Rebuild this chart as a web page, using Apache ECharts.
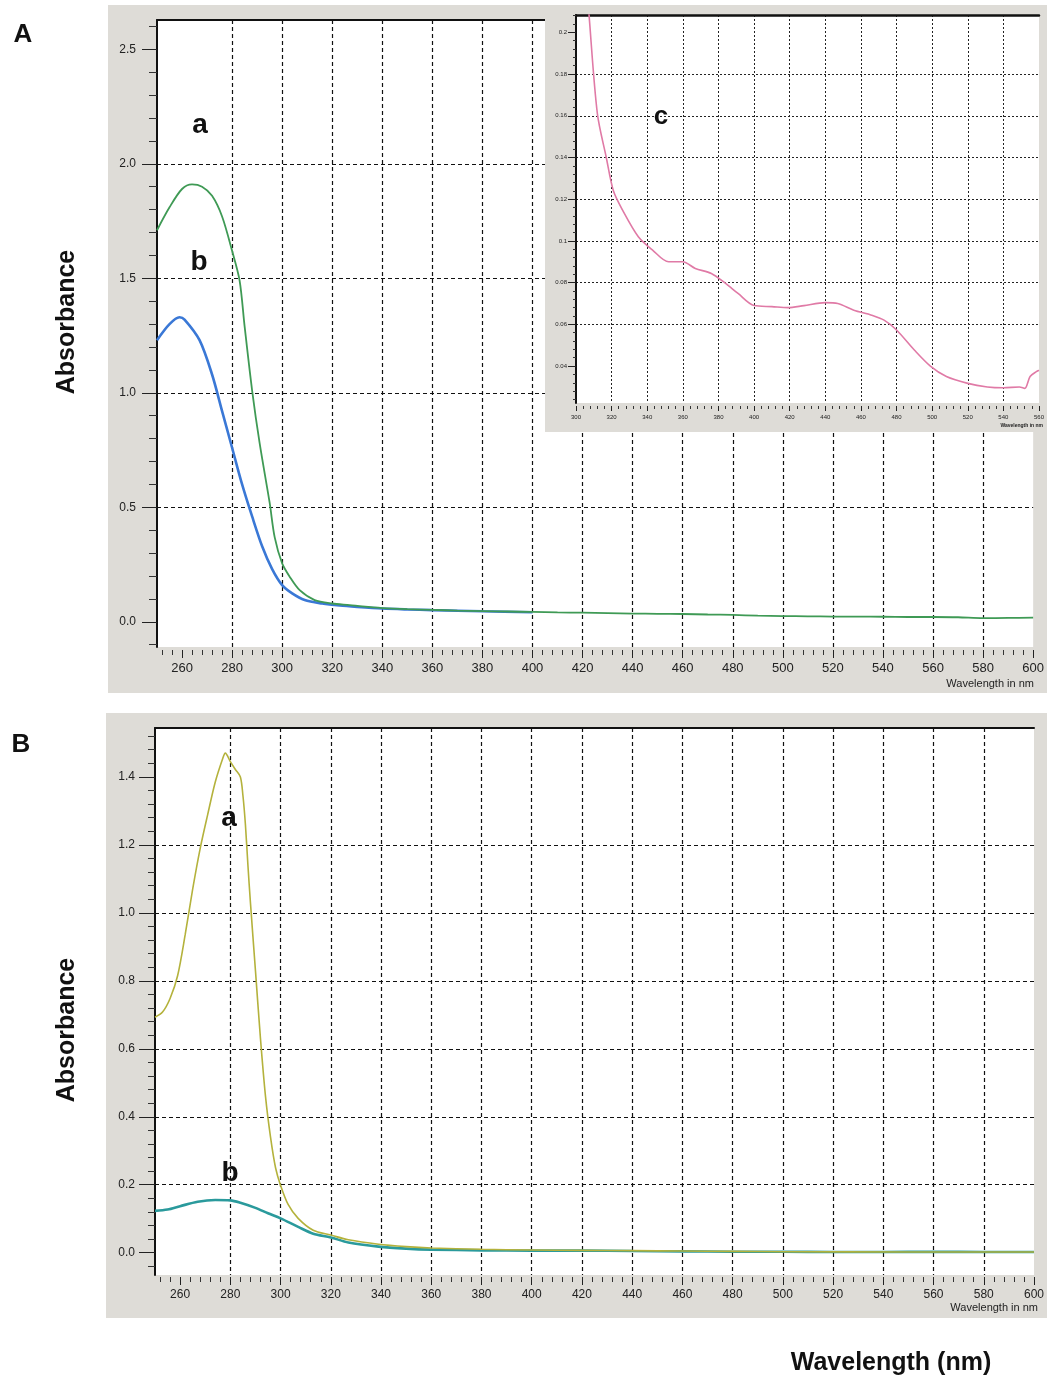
<!DOCTYPE html>
<html><head><meta charset="utf-8">
<script src="https://cdn.jsdelivr.net/npm/echarts@6/dist/echarts.min.js"></script>
<style>html,body{margin:0;padding:0;background:#fff}#c{width:1047px;height:1378px}</style>
</head><body><div id="c"></div>
<script>
// ---------- Panel A (main) ----------
const aWlA  = [250,255,260,264,268,272,276,280,283,285,288,291,295,297,300,303,307,313,320,327,332,340,350,360,370,380,390,400,410,420,430,440,450,460,470,480,490,500,510,520,530,540,550,560,570,580,590,600];
const aAbsA = [1.71,1.81,1.89,1.91,1.90,1.86,1.77,1.62,1.49,1.29,1.01,0.78,0.52,0.37,0.255,0.197,0.138,0.095,0.08,0.073,0.067,0.060,0.055,0.052,0.049,0.047,0.045,0.043,0.041,0.040,0.038,0.036,0.035,0.034,0.032,0.030,0.027,0.025,0.024,0.023,0.023,0.022,0.021,0.021,0.020,0.016,0.017,0.018];
const bWlA  = [250,255,259,261,267,272,276,280,284,288,292,296,300,304,309,316,323,330,340,350,360,380,400];
const bAbsA = [1.23,1.30,1.33,1.32,1.23,1.08,0.92,0.76,0.60,0.46,0.33,0.23,0.16,0.124,0.095,0.08,0.071,0.065,0.058,0.054,0.051,0.046,0.042];
// ---------- Panel A inset (c) ----------
const cWl  = [306,307.4,312,317,321,326,335,343,352,360,367,376,384,391,400,410,419,428,440,447,456,466,473,480,490,499,508,520,531,540,549,552,555,558.5,560];
const cAbs = [0.225,0.2075,0.161,0.140,0.124,0.115,0.102,0.0956,0.090,0.090,0.0868,0.0844,0.0796,0.0748,0.069,0.0685,0.068,0.069,0.0704,0.070,0.0668,0.0644,0.062,0.0573,0.0477,0.040,0.035,0.0317,0.030,0.0296,0.030,0.0293,0.035,0.0373,0.038];
// ---------- Panel B ----------
const aWlB  = [250,253,256,259,262,265,268,271,274,277,278,280,282,284,285,286,287,288,290,292,294,296,298,300,303,307,313,320,327,339,350,360,380,400,420,440,460,480,500,550,600];
const aAbsB = [0.693,0.708,0.748,0.815,0.935,1.07,1.19,1.29,1.385,1.455,1.47,1.445,1.422,1.40,1.346,1.26,1.14,1.03,0.83,0.63,0.46,0.34,0.25,0.198,0.142,0.101,0.066,0.052,0.038,0.025,0.018,0.014,0.010,0.008,0.007,0.006,0.005,0.004,0.003,0.002,0.002];
const bWlB  = [250,255,260,267,274,280,284,290,295,300,307,313,320,327,339,350,360,380,400,420,440,460,480,500,520,540,560,580,600];
const bAbsB = [0.123,0.127,0.137,0.150,0.155,0.154,0.147,0.132,0.116,0.101,0.076,0.056,0.045,0.030,0.018,0.012,0.009,0.007,0.006,0.006,0.005,0.004,0.003,0.003,0.002,0.002,0.003,0.002,0.002];
// ---------- Tick values ----------
const xTicksMain  = [260,280,300,320,340,360,380,400,420,440,460,480,500,520,540,560,580,600];
const yTicksA     = [0,0.5,1.0,1.5,2.0,2.5];
const xTicksInset = [300,320,340,360,380,400,420,440,460,480,500,520,540,560];
const yTicksInset = [0.04,0.06,0.08,0.1,0.12,0.14,0.16,0.18,0.2];
const yTicksB     = [0,0.2,0.4,0.6,0.8,1.0,1.2,1.4];

const zip = (xs, ys) => xs.map((x, i) => [x, ys[i]]);
const FF = "'Liberation Sans', Arial, sans-serif";
const DASH = {type:[4,3], color:'#111', width:1.2};
const DOT  = {type:[2,2], color:'#222', width:1};

function bottomX(grid, min, max, ticks, opt) {
  return {
    type:'value', gridIndex:grid, min:min, max:max, minInterval:20, maxInterval:20,
    position:'bottom', offset:opt.offset, z:opt.z,
    axisLine:{show:false, onZero:false},
    axisTick:{show:true, customValues:ticks, length:opt.tickLen, lineStyle:{color:'#222', width:1}},
    minorTick:{show:true, splitNumber:5, length:opt.minorLen, lineStyle:{color:'#333', width:1}},
    axisLabel:{customValues:ticks, fontSize:opt.fs, color:'#222', margin:opt.margin, fontFamily:FF},
    splitLine:{show:true, showMinLine:false, showMaxLine:false, lineStyle:opt.grid}
  };
}
function topX(grid, min, max, z, w) {
  return {type:'value', gridIndex:grid, min:min, max:max, position:'top', z:z,
    axisLine:{show:true, onZero:false, lineStyle:{color:'#111', width:w}},
    axisTick:{show:false}, axisLabel:{show:false}, splitLine:{show:false}};
}
function leftY(grid, min, max, step, ticks, opt) {
  return {
    type:'value', gridIndex:grid, min:min, max:max, minInterval:step, maxInterval:step, z:opt.z,
    axisLine:{show:true, onZero:false, lineStyle:{color:'#111', width:opt.lw}},
    axisTick:{show:true, customValues:ticks, length:opt.tickLen, lineStyle:{color:'#222', width:1}},
    minorTick:{show:true, splitNumber:5, length:opt.minorLen, lineStyle:{color:'#333', width:1}},
    axisLabel:{customValues:ticks, fontSize:opt.fs, color:'#222', margin:opt.margin, fontFamily:FF, formatter:opt.fmt},
    splitLine:{show:true, showMinLine:false, showMaxLine:false, lineStyle:opt.grid}
  };
}

const chart = echarts.init(document.getElementById('c'));
const txt = (x, y, s, fs, extra) => Object.assign({type:'text', x:x, y:y, z:30,
  style:{text:s, font:'bold '+fs+'px '+FF, fill:'#111', align:'center', verticalAlign:'middle'}}, extra||{});
const line = (xi, yi, xs, ys, color, width, z) => ({type:'line', xAxisIndex:xi, yAxisIndex:yi, data:zip(xs, ys),
  showSymbol:false, smooth:0.3, z:z, lineStyle:{color:color, width:width}});

chart.setOption({
  animation:false,
  backgroundColor:'#ffffff',
  grid:[
    {left:157, right:13, top:20, bottom:731, show:true, backgroundColor:'#ffffff', borderWidth:0, z:0},
    {left:576, right:4, top:15, bottom:975, show:true, backgroundColor:'#ffffff', borderWidth:0, z:6},
    {left:155, right:9, top:728, bottom:103, show:true, backgroundColor:'#ffffff', borderWidth:0, z:0}
  ],
  xAxis:[
    bottomX(0, 250, 600, xTicksMain, {offset:3, z:0, tickLen:8, minorLen:5, fs:13, margin:12, grid:DASH}),
    topX(0, 250, 600, 0, 2),
    bottomX(1, 300, 560, xTicksInset, {offset:3, z:10, tickLen:5, minorLen:3, fs:6, margin:8, grid:DOT}),
    topX(1, 300, 560, 10, 2.5),
    bottomX(2, 250, 600, xTicksMain, {offset:2, z:0, tickLen:8, minorLen:5, fs:12, margin:12, grid:DASH}),
    topX(2, 250, 600, 0, 2)
  ],
  yAxis:[
    leftY(0, -0.11, 2.628, 0.5, yTicksA, {z:0, lw:2, tickLen:15, minorLen:8, fs:12, margin:21, grid:DASH, fmt:v=>v.toFixed(1)}),
    leftY(1, 0.0223, 0.2083, 0.02, yTicksInset, {z:10, lw:2, tickLen:8, minorLen:3, fs:6, margin:9, grid:DOT, fmt:v=>String(+v.toFixed(2))}),
    leftY(2, -0.0656, 1.544, 0.2, yTicksB, {z:0, lw:2, tickLen:16, minorLen:7, fs:12, margin:20, grid:DASH, fmt:v=>v.toFixed(1)})
  ],
  series:[
    line(0, 0, bWlA, bAbsA, '#3a78d6', 2.6, 2),
    line(0, 0, aWlA, aAbsA, '#3f9a55', 1.8, 3),
    line(2, 1, cWl, cAbs, '#e07aa6', 1.6, 12),
    line(4, 2, bWlB, bAbsB, '#2a9a9c', 2.6, 2),
    line(4, 2, aWlB, aAbsB, '#b4b23c', 1.6, 3)
  ],
  graphic:[
    {type:'rect', z:-10, silent:true, shape:{x:108, y:5, width:939, height:688}, style:{fill:'#dedcd7'}},
    {type:'rect', z:-10, silent:true, shape:{x:106, y:713, width:941, height:605}, style:{fill:'#dedcd7'}},
    {type:'rect', z:5, silent:true, shape:{x:545, y:10, width:502, height:422}, style:{fill:'#dedcd7'}},
    txt(23, 35, 'A', 26),
    txt(21, 745, 'B', 26),
    txt(67, 322, 'Absorbance', 25, {rotation:Math.PI/2}),
    txt(67, 1030, 'Absorbance', 25, {rotation:Math.PI/2}),
    txt(891, 1363, 'Wavelength (nm)', 25),
    txt(200, 125, 'a', 28),
    txt(199, 262, 'b', 28),
    txt(661, 117, 'c', 26),
    txt(229, 818, 'a', 28),
    txt(230, 1173, 'b', 28),
    {type:'text', x:1034, y:684, z:30, style:{text:'Wavelength in nm', font:'11px '+FF, fill:'#222', align:'right', verticalAlign:'middle'}},
    {type:'text', x:1038, y:1308, z:30, style:{text:'Wavelength in nm', font:'11px '+FF, fill:'#222', align:'right', verticalAlign:'middle'}},
    {type:'text', x:1043, y:426, z:30, style:{text:'Wavelength in nm', font:'bold 5px '+FF, fill:'#222', align:'right', verticalAlign:'middle'}}
  ]
});
</script></body></html>
